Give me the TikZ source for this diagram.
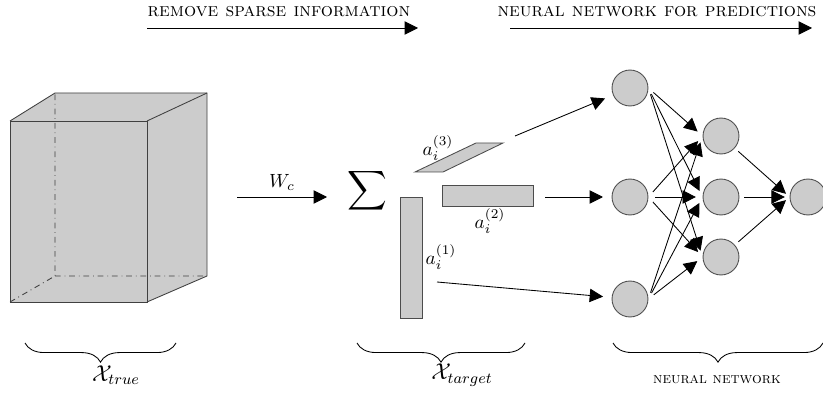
\documentclass[tikz,border=0pt]{standalone}
\usepackage{amsmath}
\usetikzlibrary{arrows.meta,decorations.pathreplacing}
\begin{document}
\begin{tikzpicture}[x=0.523pt,y=0.523pt,line width=0.45pt,
		>={Triangle[length=7pt,width=7pt]},
		neuron/.style={draw=black!70,fill=gray!40,circle,minimum size=18.8pt,inner sep=0pt},
		slab/.style={draw=black!70,fill=gray!40},
		ubrace/.style={decorate,decoration={brace,mirror,amplitude=10pt}}]
		\useasboundingbox (0,0) rectangle (823,392);

		% headings
		\draw (279,380) node (t1){\textsc{remove sparse information}};
		\draw (657,380) node (t2){\textsc{neural network for predictions}};
		\coordinate (t1a) at (147,364); \coordinate (t1b) at (418,364);
		\coordinate (t2a) at (510,364); \coordinate (t2b) at (812,364);
		\draw[->] (t1a)--(t1b);
		\draw[->] (t2a)--(t2b);

		% tensor
		\fill[gray!40] (10,90)--(147,90)--(207,116)--(207,299)--(55,299)--(10,271)--cycle;
		\draw[black!75] (10,90) rectangle (147,271);
		\draw[black!75] (10,271)--(55,299)--(207,299)--(207,116)--(147,90);
		\draw[black!75] (147,271)--(207,299);
		\draw[black!75,dash dot] (10,90)--(55,116)--(55,299) (55,116)--(207,116);

		% decomposition
		\coordinate (w1) at (237,195); \coordinate (w2) at (327,195);
		\draw[->] (w1)-- node (wc)[above]{$W_c$} (w2);
		\draw (367,201) node (sum){\Large$\displaystyle\sum$};
		\draw[slab] (400,74) rectangle (422,195);
		\draw[slab] (442,186) rectangle (533,207);
		\draw[slab] (415,220)--(443,220)--(503,249)--(476,249)--cycle;
		\draw (441,135) node (a1){$a_i^{(1)}$};
		\draw (490,171) node (a2){$a_i^{(2)}$};
		\draw (438,244) node (a3){$a_i^{(3)}$};

		% network
		\foreach \n/\y in {1/304,2/195,3/93}
			\draw (630,\y) node (i\n)[neuron]{};
		\foreach \n/\y in {1/256,2/195,3/135}
			\draw (721,\y) node (h\n)[neuron]{};
		\draw (808,195) node (o)[neuron]{};
		\coordinate (s1) at (515,256);
		\coordinate (s2) at (545,195);
		\coordinate (s3) at (437,110);
		\foreach \n in {1,2,3}
			\draw[->,shorten >=4.5pt] (s\n)--(i\n);
		\foreach \i in {1,2,3}
			\foreach \h in {1,2,3}
				\draw[->,shorten <=3.5pt,shorten >=3.5pt] (i\i.east)--(h\h.west);
		\foreach \h in {1,2,3}
			\draw[->,shorten <=2.5pt,shorten >=2.5pt] (h\h)--(o.west);

		% braces
		\draw[ubrace] (25,49)--(176,49);
		\draw[ubrace] (357,49)--(525,49);
		\draw[ubrace] (613,49)--(823,49);
		\draw (116,17) node (xt){\fontsize{11.5}{14}\selectfont$\mathcal{X}_{true}$};
		\draw (462,17) node (xg){\fontsize{11.5}{14}\selectfont$\mathcal{X}_{target}$};
		\draw (717,12) node (nn){\footnotesize\textsc{neural network}};
	\end{tikzpicture}
\end{document}
